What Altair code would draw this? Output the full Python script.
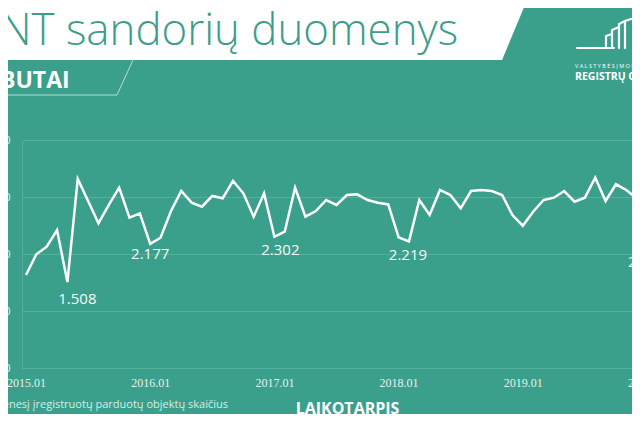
import altair as alt
import pandas as pd

# ---- data (monthly count of registered sold flats) ----
values = [1632, 1995, 2128, 2421, 1508, 3316, 2930, 2539, 2860, 3163, 2637, 2714,
          2177, 2286, 2750, 3105, 2900, 2830, 3018, 2977, 3281, 3065, 2655, 3065,
          2302, 2391, 3163, 2655, 2754, 2947, 2860, 3035, 3047, 2947, 2900, 2870,
          2293, 2219, 2947, 2684, 3123, 3035, 2802, 3105, 3123, 3105, 3035, 2684,
          2496, 2742, 2947, 2988, 3105, 2918, 2988, 3340, 2930, 3223, 3123, 2977,
          2090]
months = [f"{2015 + i // 12}.{i % 12 + 1:02d}" for i in range(len(values))]
x_tick_labels = ["2015.01", "2016.01", "2017.01", "2018.01", "2019.01", "2020.01"]
y_ticks = [0, 1000, 2000, 3000, 4000]
annotated_months = ["2015.05", "2016.01", "2017.01", "2018.02", "2020.01"]
annotation_offsets = [(10, 17), (0, 10), (6, 13), (-1, 13), (0, 13)]

title_text = "NT sandorių duomenys"
subtitle_text = "BUTAI"
y_caption = "Per mėnesį įregistruotų parduotų objektų skaičius"
x_caption = "LAIKOTARPIS"

BG = "#3aa08b"
GRID = "#55af9b"
LIGHT = "#e3f2ee"

df = pd.DataFrame({"idx": list(range(len(values))), "month": months, "value": values})
tick_idx = [months.index(m) for m in x_tick_labels if m in months]

month_px = 10.35
W, H = 640, 228
x_dom = [-4 / month_px, (W - 4) / month_px]

x_enc = alt.X("idx:Q", scale=alt.Scale(domain=x_dom, nice=False, zero=False),
              axis=alt.Axis(values=tick_idx,
                            labelExpr="'20' + (15 + floor(datum.value / 12)) + '.01'",
                            grid=False, ticks=False, domain=True, domainColor=GRID,
                            labelColor=LIGHT, labelFont="Liberation Serif", labelFontSize=12,
                            labelPadding=9, title=None))
y_enc = alt.Y("value:Q", scale=alt.Scale(domain=[0, 4000], nice=False),
              axis=alt.Axis(values=y_ticks, labelExpr="replace(datum.label, ',', '.')",
                            grid=True, gridColor=GRID, gridWidth=1, ticks=False,
                            domain=True, domainColor=GRID, labelColor=LIGHT,
                            labelFont="Open Sans", labelFontSize=11, labelPadding=12,
                            title=None))

line = alt.Chart(df).mark_line(color="white", strokeWidth=2.5, clip=True).encode(x=x_enc, y=y_enc)

ann_layers = []
for m, (dx, dy) in zip(annotated_months, annotation_offsets):
    i = months.index(m)
    v = values[i]
    txt = f"{v // 1000}.{v % 1000:03d}"
    ann_layers.append(
        alt.Chart(pd.DataFrame({"idx": [i], "value": [v], "t": [txt]}))
        .mark_text(color="#f4faf8", font="Open Sans", fontSize=15, dx=dx, dy=dy,
                   baseline="middle", align="center")
        .encode(x=alt.X("idx:Q"), y=alt.Y("value:Q"), text="t:N")
    )

one = pd.DataFrame({"a": [0]})

def rect(x, x2, y, y2, color):
    return alt.Chart(one).mark_rect(color=color).encode(
        x=alt.value(x), x2=alt.value(x2), y=alt.value(y), y2=alt.value(y2))

def rule(x, y, x2, y2, color, w, cap="butt", op=1.0):
    return alt.Chart(one).mark_rule(color=color, strokeWidth=w, strokeCap=cap, opacity=op).encode(
        x=alt.value(x), x2=alt.value(x2), y=alt.value(y), y2=alt.value(y2))

def text(x, y, t, size, color="white", weight="normal", align="left", baseline="middle",
         font="Open Sans"):
    return alt.Chart(one).mark_text(fontSize=size, color=color, fontWeight=weight, align=align,
                                    baseline=baseline, font=font).encode(
        x=alt.value(x), y=alt.value(y), text=alt.value(t))

# plot origin is at reference pixel (22, 140)
deco = [
    rect(-40, 505, -160, -80, "white"),
    rule(538.5, -168.3, 488.5, -48.3, BG, 40),
    text(-22, -95, title_text, 43.8, color="#3d9d8a", weight=300, baseline="alphabetic"),
    text(-22, -52, subtitle_text, 23, weight="bold", baseline="alphabetic"),
    rule(111, -80, 95, -45, "#b5ddd3", 1),
    rule(-40, -45, 95, -45, "#b5ddd3", 1),
    # logo (building outline)
    rule(555, -92, 592, -92, "white", 2, "round"),
    rule(584, -104, 584, -92, "white", 2.2, "round"),
    rule(584, -104, 590, -106, "white", 2.2, "round"),
    rule(590, -110, 590, -92, "white", 2.2, "round"),
    rule(590, -110, 597, -113, "white", 2.2, "round"),
    rule(597, -116, 597, -92, "white", 2.2, "round"),
    rule(597, -116, 603, -119, "white", 2.2, "round"),
    rule(603, -119, 603, -92, "white", 2.2, "round"),
    rule(603, -119, 609, -121, "white", 2.2, "round"),
    rule(609, -121, 618, -121, "white", 2.2, "round"),
    rule(618, -121, 618, -92, "white", 2.2, "round"),
    text(553, -74, "V A L S T Y B Ė S   Į M O N Ė", 5.5),
    text(553, -63, "REGISTRŲ CENTRAS", 10.5, weight="bold"),
    # bottom captions
    text(206, 265, y_caption, 11, color="#d6eee8", align="right"),
    text(325.5, 269, x_caption, 16, weight="bold", align="center"),
]

chart = alt.layer(*deco, line, *ann_layers).properties(
    width=W, height=H,
    background=BG,
    padding={"left": 14, "top": 132, "right": -30, "bottom": 46},
    autosize=alt.AutoSizeParams(type="none"),
).configure_view(stroke=None)

chart.save("out.html", embed_options={"renderer": "svg", "actions": False})
